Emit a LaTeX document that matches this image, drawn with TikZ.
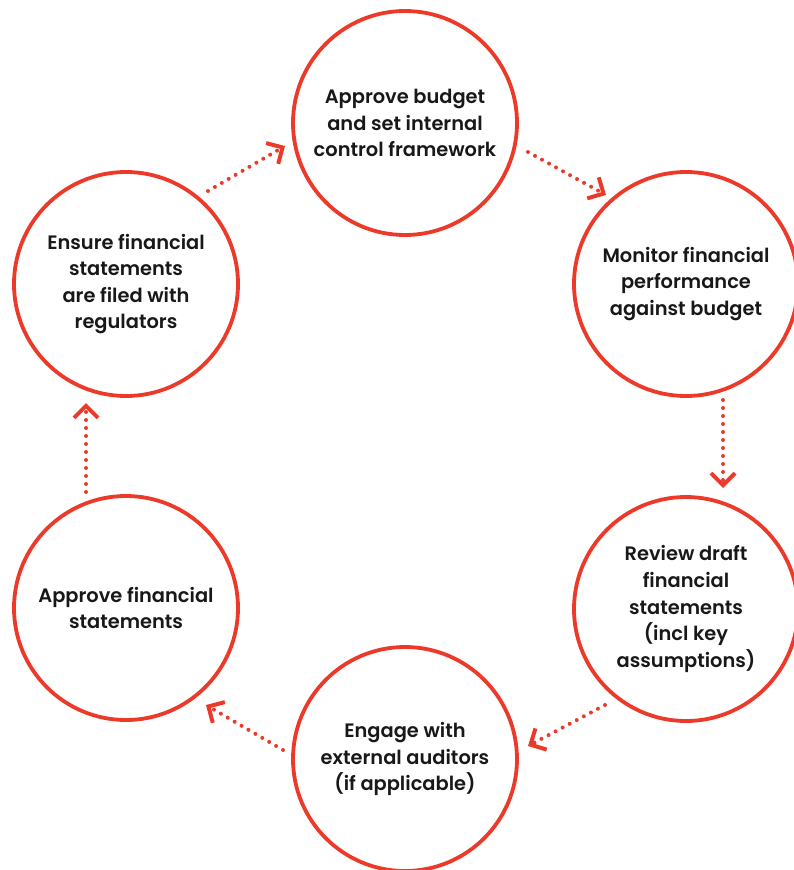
\documentclass[tikz,border=0pt]{standalone}
\usepackage{fontspec}
\setmainfont{Poppins}[BoldFont=* SemiBold]
\usetikzlibrary{arrows.meta}
\definecolor{cred}{RGB}{236,58,42}
\definecolor{ctext}{RGB}{24,24,24}
\tikzset{
  stage/.style={circle, draw=cred, line width=3.8pt, minimum size=224pt, inner sep=0pt,
    align=center, text=ctext, font=\bfseries\fontsize{19.4}{26.6}\selectfont},
  flow/.style={draw=cred, line width=4pt, line cap=round, dash pattern=on 0pt off 8pt,
    -{Straight Barb[length=12pt, width=24pt, line width=4pt, line cap=butt]}},
}
\begin{document}
\begin{tikzpicture}[x=1pt, y=-1pt]
\useasboundingbox (0,0) rectangle (794,870);
\node[stage] (top) at (405,123) {Approve budget\\and set internal\\control framework};
\node[stage] (ru) at (686,284) {Monitor financial\\performance\\against budget};
\node[stage] (rl) at (686,609) {Review draft\\financial\\statements\\(incl key\\assumptions)};
\node[stage] (bot) at (405,759) {Engage with\\external auditors\\(if applicable)};
\node[stage] (ll) at (126,608) {Approve financial\\statements};
\node[stage] (lu) at (126,284) {Ensure financial\\statements\\are filed with\\regulators};
\coordinate (a1s) at (208,191); \coordinate (a1e) at (285,146);
\coordinate (a2s) at (528,152); \coordinate (a2e) at (606,195);
\coordinate (a3s) at (723,400); \coordinate (a3e) at (723,488);
\coordinate (a4s) at (605,705); \coordinate (a4e) at (528,746);
\coordinate (a5s) at (283,750); \coordinate (a5e) at (206,705);
\coordinate (a6s) at (86,492);  \coordinate (a6e) at (86,403);
\draw[flow] (a1s) -- (a1e);
\draw[flow] (a2s) -- (a2e);
\draw[flow] (a3s) -- (a3e);
\draw[flow] (a4s) -- (a4e);
\draw[flow] (a5s) -- (a5e);
\draw[flow] (a6s) -- (a6e);
\end{tikzpicture}
\end{document}
